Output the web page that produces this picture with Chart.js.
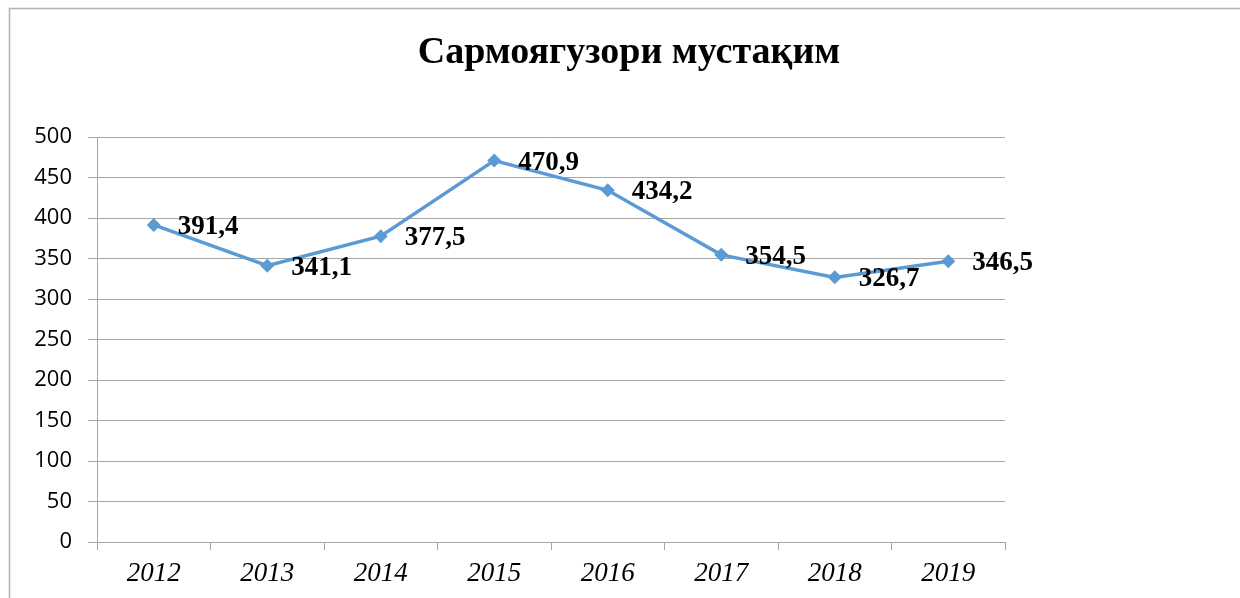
<!DOCTYPE html>
<html>
<head>
<meta charset="utf-8">
<script src="https://cdn.jsdelivr.net/npm/chart.js@4"></script>
<style>
    html, body { margin: 0; padding: 0; background: #fff; }
    #wrap { width: 1240px; height: 598px; }
</style>
</head>
<body>
<div id="wrap"><canvas id="fdiChart" width="1240" height="598"></canvas></div>
<script>
// Chart data
const years = ['2012', '2013', '2014', '2015', '2016', '2017', '2018', '2019'];
const investment = [391.4, 341.1, 377.5, 470.9, 434.2, 354.5, 326.7, 346.5];
const yTicks = [0, 50, 100, 150, 200, 250, 300, 350, 400, 450, 500];
const chartTitle = 'Сармоягузори мустақим';

const gridColor = '#a6a6a6';

// Frame, title and point labels
const decorPlugin = {
    id: 'decor',
    beforeDraw(chart) {
        const ctx = chart.ctx;
        ctx.save();
        ctx.strokeStyle = '#b4b4b4';
        ctx.lineWidth = 1.5;
        ctx.beginPath();
        ctx.moveTo(9.5, 620);
        ctx.lineTo(9.5, 8.5);
        ctx.lineTo(1260, 8.5);
        ctx.stroke();
        ctx.restore();
    },
    afterDraw(chart) {
        const ctx = chart.ctx;
        ctx.save();
        ctx.fillStyle = '#000';
        ctx.font = 'bold 38px "Liberation Serif", "Times New Roman", serif';
        ctx.textAlign = 'center';
        ctx.textBaseline = 'middle';
        ctx.fillText(chartTitle, 629, 53);

        ctx.font = 'bold 27px "Liberation Serif", "Times New Roman", serif';
        ctx.textAlign = 'left';
        const meta = chart.getDatasetMeta(0);
        meta.data.forEach(function(pt, i) {
            const txt = investment[i].toFixed(1).replace('.', ',');
            ctx.fillText(txt, pt.x + 24, pt.y + 2);
        });
        ctx.restore();
    }
};

new Chart(document.getElementById('fdiChart'), {
    type: 'line',
    data: {
        labels: years,
        datasets: [{
            data: investment,
            borderColor: '#5b9bd5',
            backgroundColor: '#5b9bd5',
            borderWidth: 3.5,
            pointStyle: 'rectRot',
            pointRadius: 7,
            pointBorderWidth: 0,
            tension: 0
        }]
    },
    options: {
        responsive: false,
        animation: false,
        layout: {
            padding: { left: 0, right: 235, top: 137, bottom: 0 }
        },
        plugins: {
            legend: { display: false },
            tooltip: { enabled: false },
            title: { display: false }
        },
        scales: {
            x: {
                offset: true,
                grid: {
                    offset: true,
                    drawOnChartArea: false,
                    tickLength: 8,
                    color: gridColor
                },
                border: { color: gridColor },
                ticks: {
                    color: '#000',
                    padding: 8,
                    maxRotation: 0,
                    font: { family: '"Liberation Serif", "Times New Roman", serif', style: 'italic', size: 27 }
                },
                afterFit(scale) { scale.height = 56; }
            },
            y: {
                min: 0,
                max: 500,
                afterBuildTicks(scale) {
                    scale.ticks = yTicks.map(v => ({ value: v }));
                },
                grid: {
                    color: gridColor,
                    tickLength: 9
                },
                border: { color: gridColor },
                ticks: {
                    color: '#000',
                    padding: 16,
                    font: { family: '"Open Sans", sans-serif', size: 22 }
                },
                afterFit(scale) { scale.width = 97; }
            }
        }
    },
    plugins: [decorPlugin]
});
</script>
</body>
</html>
